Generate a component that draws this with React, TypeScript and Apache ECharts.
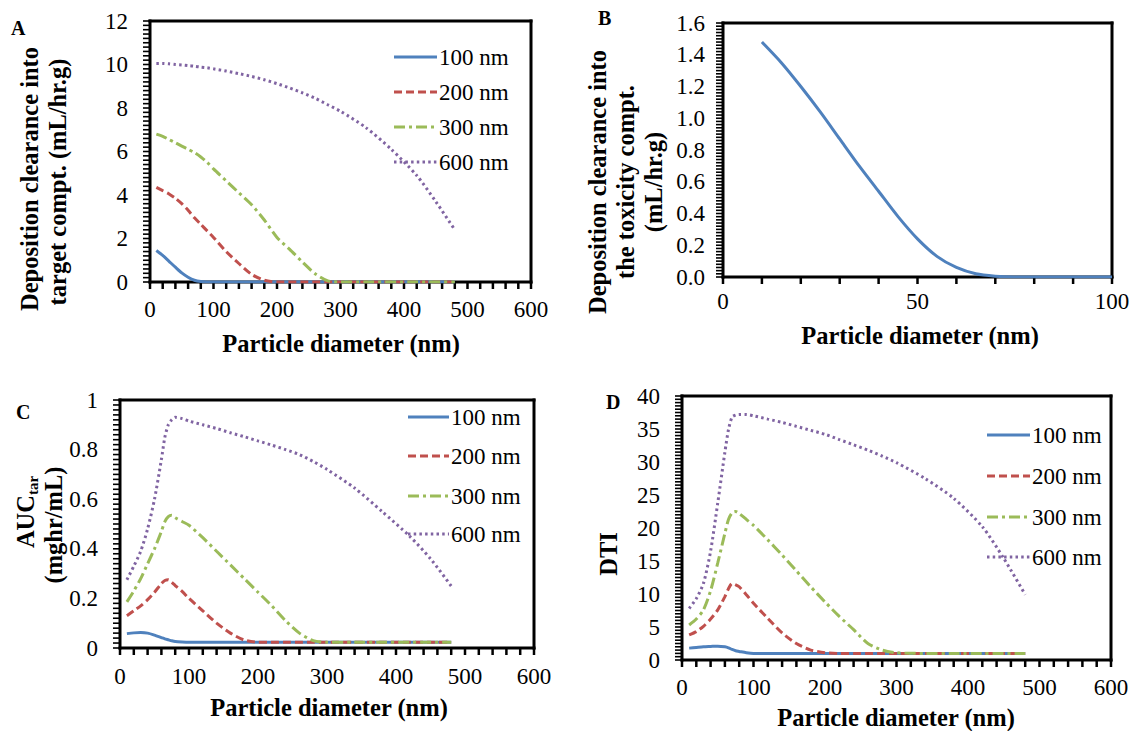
import React, { useEffect, useRef } from "react";
import * as echarts from "echarts";

const FONT = '"Liberation Serif", "Times New Roman", serif';
const SERIES_NAMES = ["100 nm", "200 nm", "300 nm", "600 nm"];
const COLORS = ["#4F81BD", "#C0504D", "#9BBB59", "#8064A2"];

// Panel A: deposition clearance into target compartment
const xA = [10, 20, 30, 40, 50, 60, 70, 80, 90, 100, 120, 140, 160, 180, 200, 220, 240, 260, 280, 300, 340, 380, 420, 450, 480];
const a100 = [1.45, 1.22, 0.95, 0.68, 0.42, 0.22, 0.08, 0.02, 0, 0, 0, 0, 0, 0, 0, 0, 0, 0, 0, 0, 0, 0, 0, 0, 0];
const a200 = [4.35, 4.2, 4.05, 3.85, 3.6, 3.3, 2.95, 2.65, 2.35, 2.05, 1.4, 0.85, 0.35, 0.08, 0, 0, 0, 0, 0, 0, 0, 0, 0, 0, 0];
const a300 = [6.8, 6.7, 6.55, 6.4, 6.25, 6.1, 5.95, 5.75, 5.5, 5.2, 4.65, 4.1, 3.55, 2.85, 2.05, 1.5, 0.92, 0.38, 0.05, 0, 0, 0, 0, 0, 0];
const a600 = [10.05, 10.05, 10.03, 10.0, 9.98, 9.95, 9.92, 9.88, 9.85, 9.8, 9.7, 9.58, 9.45, 9.3, 9.12, 8.92, 8.7, 8.45, 8.15, 7.85, 7.1, 6.1, 4.9, 3.7, 2.4];

// Panel B: deposition clearance into the toxicity compartment
const xB = [10, 15, 20, 25, 30, 35, 40, 45, 50, 55, 60, 65, 70, 75, 80, 90, 100];
const b100 = [1.48, 1.35, 1.2, 1.04, 0.87, 0.7, 0.54, 0.38, 0.24, 0.13, 0.06, 0.02, 0.005, 0, 0, 0, 0];

// Panels C and D share this x grid
const xCD = [10, 20, 30, 40, 50, 60, 65, 70, 75, 80, 90, 100, 120, 140, 160, 180, 200, 220, 240, 260, 280, 300, 340, 380, 420, 450, 480];
const c100 = [0.058, 0.061, 0.062, 0.06, 0.052, 0.042, 0.037, 0.033, 0.029, 0.026, 0.024, 0.023, 0.023, 0.023, 0.023, 0.023, 0.023, 0.023, 0.023, 0.023, 0.023, 0.023, 0.023, 0.023, 0.023, 0.023, 0.023];
const c200 = [0.13, 0.15, 0.17, 0.195, 0.225, 0.26, 0.272, 0.275, 0.265, 0.252, 0.228, 0.2, 0.15, 0.1, 0.06, 0.032, 0.023, 0.023, 0.023, 0.023, 0.023, 0.023, 0.023, 0.023, 0.023, 0.023, 0.023];
const c300 = [0.186, 0.23, 0.28, 0.34, 0.4, 0.47, 0.51, 0.53, 0.535, 0.525, 0.51, 0.495, 0.445, 0.39, 0.335, 0.28, 0.225, 0.17, 0.11, 0.06, 0.03, 0.023, 0.023, 0.023, 0.023, 0.023, 0.023];
const c600 = [0.275, 0.33, 0.39, 0.48, 0.6, 0.76, 0.85, 0.9, 0.92, 0.93, 0.925, 0.915, 0.9, 0.885, 0.868, 0.852, 0.835, 0.818, 0.8, 0.78, 0.752, 0.72, 0.645, 0.55, 0.45, 0.36, 0.25];

const d100 = [1.8, 1.9, 2.0, 2.05, 2.1, 2.0, 1.85, 1.6, 1.4, 1.3, 1.1, 1.0, 1.0, 1.0, 1.0, 1.0, 1.0, 1.0, 1.0, 1.0, 1.0, 1.0, 1.0, 1.0, 1.0, 1.0, 1.0];
const d200 = [3.8, 4.3, 5.1, 6.2, 7.6, 9.6, 10.8, 11.6, 11.4, 11.1, 9.9, 8.6, 6.3, 4.1, 2.5, 1.5, 1.1, 1.0, 1.0, 1.0, 1.0, 1.0, 1.0, 1.0, 1.0, 1.0, 1.0];
const d300 = [5.3, 6.2, 7.6, 10.5, 14.7, 19.2, 21.3, 22.3, 22.5, 22.2, 21.3, 20.4, 18.2, 15.9, 13.5, 11.1, 8.8, 6.6, 4.6, 2.5, 1.5, 1.1, 1.0, 1.0, 1.0, 1.0, 1.0];
const d600 = [7.8, 9.3, 11.6, 16.5, 23.8, 31.5, 34.9, 36.8, 37.1, 37.2, 37.2, 37.0, 36.5, 36.0, 35.4, 34.8, 34.2, 33.4, 32.6, 31.8, 30.9, 29.9, 27.5, 24.5, 20.2, 15.4, 9.9];

// Axis ranges and tick spacing per panel: [xMax, xLabelStep, xTickStep, yMax, yLabelStep, yTickStep]
const AXES_A = [600, 100, 20, 12, 2, 0.2];
const AXES_B = [100, 50, 10, 1.6, 0.2, 0.02];
const AXES_C = [600, 100, 20, 1, 0.2, 0.02];
const AXES_D = [600, 100, 20, 40, 5, 0.5];

const DASHES: any[] = ["solid", [8, 4], [11, 4, 3, 4], [2.5, 3.2]];
const INK = "#000000";

function pairs(xs: number[], ys: number[]) {
  return xs.map((x, i) => [x, ys[i]]);
}

function makeSeries(idx: number, names: string[], xs: number[], ys: number[][]) {
  return ys.map((y, k) => {
    const ci = SERIES_NAMES.indexOf(names[k]);
    return {
      type: "line",
      name: names[k],
      xAxisIndex: idx,
      yAxisIndex: idx,
      data: pairs(xs, y),
      showSymbol: false,
      symbol: "none",
      smooth: 0.25,
      lineStyle: { color: COLORS[ci], width: 3, type: DASHES[ci] },
      itemStyle: { color: COLORS[ci] },
      z: 3,
    };
  });
}

// Frame and tick marks drawn as filled bars, positioned through the axis scales
function decorSeries(idx: number, ax: number[]) {
  const [xMax, , xTick, yMax, , yTick] = ax;
  const data: number[][] = [[0, 0, 2]];
  const nx = Math.round(xMax / xTick);
  for (let i = 0; i <= nx; i++) data.push([i * xTick, 0, 0]);
  const ny = Math.round(yMax / yTick);
  for (let i = 0; i <= ny; i++) data.push([0, i * yTick, 1]);
  return {
    type: "custom",
    coordinateSystem: "cartesian2d",
    xAxisIndex: idx,
    yAxisIndex: idx,
    silent: true,
    clip: false,
    z: 2,
    dimensions: ["x", "y", "kind"],
    encode: { x: 0, y: 1 },
    data,
    renderItem: (params: any, api: any) => {
      const cs = params.coordSys;
      const kind = api.value(2);
      const p = api.coord([api.value(0), api.value(1)]);
      const left = cs.x;
      const top = cs.y;
      const right = cs.x + cs.width;
      const bottom = cs.y + cs.height;
      const st = { fill: INK, stroke: null };
      if (kind === 0) {
        return { type: "rect", shape: { x: p[0] - 1.25, y: bottom, width: 2.5, height: 7 }, style: st };
      }
      if (kind === 1) {
        return { type: "rect", shape: { x: left - 7, y: p[1] - 0.8, width: 7, height: 1.6 }, style: st };
      }
      return {
        type: "group",
        children: [
          { type: "rect", shape: { x: left - 1.5, y: top - 1.5, width: right - left + 3, height: 3 }, style: st },
          { type: "rect", shape: { x: left - 1.5, y: bottom - 1.5, width: right - left + 3, height: 3 }, style: st },
          { type: "rect", shape: { x: left - 1.5, y: top - 1.5, width: 3, height: bottom - top + 3 }, style: st },
          { type: "rect", shape: { x: right - 1.5, y: top - 1.5, width: 3, height: bottom - top + 3 }, style: st },
        ],
      };
    },
  };
}

function xAx(idx: number, ax: number[], margin: number) {
  return {
    type: "value",
    gridIndex: idx,
    position: "bottom",
    min: 0,
    max: ax[0],
    interval: ax[1],
    axisLine: { show: false },
    axisTick: { show: false },
    splitLine: { show: false },
    axisLabel: { show: true, color: "#000", fontSize: 23, fontFamily: FONT, margin },
  };
}

function yAx(idx: number, ax: number[], margin: number, fmt?: (v: number) => string) {
  return {
    type: "value",
    gridIndex: idx,
    position: "left",
    min: 0,
    max: ax[3],
    interval: ax[4],
    axisLine: { show: false },
    axisTick: { show: false },
    splitLine: { show: false },
    axisLabel: { show: true, color: "#000", fontSize: 23, fontFamily: FONT, margin, formatter: fmt },
  };
}

// Hand-drawn legend (line sample + label)
function legendItems(x1: number, x2: number, ys: number[]) {
  const out: any[] = [];
  ys.forEach((y, i) => {
    const dash = DASHES[i];
    out.push({
      type: "line",
      shape: { x1, y1: y, x2, y2: y },
      style: { stroke: COLORS[i], lineWidth: 3, lineDash: dash === "solid" ? null : dash },
      z: 10,
    });
    out.push({
      type: "text",
      x: x2 + 2,
      y,
      style: { text: SERIES_NAMES[i], fontFamily: FONT, fontSize: 23, fill: "#000", align: "left", verticalAlign: "middle" },
      z: 10,
    });
  });
  return out;
}

function vText(x: number, y: number, text: string, size = 24.5) {
  return {
    type: "text",
    x,
    y,
    rotation: Math.PI / 2,
    style: { text, fontFamily: FONT, fontSize: size, fontWeight: "bold", fill: "#000", align: "center", verticalAlign: "middle" },
  };
}

function hText(x: number, y: number, text: string, size = 24.5, align = "center") {
  return {
    type: "text",
    x,
    y,
    style: { text, fontFamily: FONT, fontSize: size, fontWeight: "bold", fill: "#000", align, verticalAlign: "middle" },
  };
}

export default function App() {
  const ref = useRef<HTMLDivElement>(null);
  useEffect(() => {
    if (!ref.current) return;
    const chart = echarts.init(ref.current, undefined, { renderer: "svg" });
    const option: any = {
      animation: false,
      backgroundColor: "#ffffff",
      textStyle: { fontFamily: FONT },
      grid: [
        { left: 150, top: 21, width: 381, height: 261 },
        { left: 723, top: 23, width: 389, height: 254 },
        { left: 120, top: 400, width: 414, height: 248 },
        { left: 682, top: 396, width: 429, height: 264 },
      ],
      xAxis: [xAx(0, AXES_A, 16), xAx(1, AXES_B, 13), xAx(2, AXES_C, 17), xAx(3, AXES_D, 16)],
      yAxis: [
        yAx(0, AXES_A, 22),
        yAx(1, AXES_B, 18, (v: number) => v.toFixed(1)),
        yAx(2, AXES_C, 22),
        yAx(3, AXES_D, 22),
      ],
      series: [
        decorSeries(0, AXES_A),
        decorSeries(1, AXES_B),
        decorSeries(2, AXES_C),
        decorSeries(3, AXES_D),
        ...makeSeries(0, SERIES_NAMES, xA, [a100, a200, a300, a600]),
        ...makeSeries(1, ["100 nm"], xB, [b100]),
        ...makeSeries(2, SERIES_NAMES, xCD, [c100, c200, c300, c600]),
        ...makeSeries(3, SERIES_NAMES, xCD, [d100, d200, d300, d600]),
      ],
      graphic: [
        ...legendItems(394, 437, [57, 92, 127, 162]),
        ...legendItems(408, 449, [417, 456, 496, 534]),
        ...legendItems(987, 1030, [435, 476, 517, 557]),
        hText(11, 28, "A", 20, "left"),
        hText(598, 18, "B", 20, "left"),
        hText(16, 412, "C", 20, "left"),
        hText(606, 402, "D", 20, "left"),
        vText(29, 179, "Deposition clearance into"),
        vText(57, 182, "target compt. (mL/hr.g)"),
        vText(597, 182, "Deposition clearance into"),
        vText(625, 182, "the toxicity compt."),
        vText(653, 182, "(mL/hr.g)"),
        {
          type: "text",
          x: 25,
          y: 512,
          rotation: Math.PI / 2,
          style: {
            text: "{a|AUC}{b|tar}",
            fontFamily: FONT,
            fill: "#000",
            align: "center",
            verticalAlign: "middle",
            rich: {
              a: { fontFamily: FONT, fontSize: 24.5, fontWeight: "bold", fill: "#000", lineHeight: 30 },
              b: { fontFamily: FONT, fontSize: 15, fontWeight: "bold", fill: "#000", lineHeight: 16, verticalAlign: "bottom" },
            },
          },
        },
        vText(53, 525, "(mghr/mL)"),
        vText(608, 554, "DTI"),
        hText(341, 343, "Particle diameter (nm)"),
        hText(920, 335, "Particle diameter (nm)"),
        hText(329, 707, "Particle diameter (nm)"),
        hText(896, 717, "Particle diameter (nm)"),
      ],
    };
    chart.setOption(option);
    return () => chart.dispose();
  }, []);
  return (
    <div
      ref={ref}
      style={{ position: "absolute", left: 0, top: 0, width: 1133, height: 731, background: "#fff" }}
    />
  );
}
